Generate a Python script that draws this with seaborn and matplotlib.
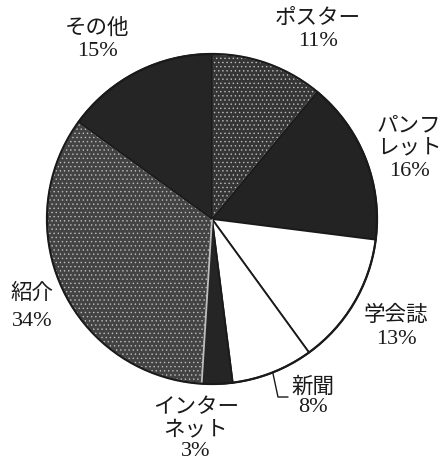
import matplotlib
matplotlib.use("Agg")
import matplotlib.pyplot as plt
import seaborn as sns
import numpy as np
from matplotlib.patches import Circle

# ---- data ----
categories = ["ポスター", "パンフ\nレット", "学会誌", "新聞", "インター\nネット", "紹介", "その他"]
values = [11, 16, 13, 8, 3, 34, 15]
pct_labels = ["11%", "16%", "13%", "8%", "3%", "34%", "15%"]

# ---- styles ----
face_colors = ["#353535", "#232323", "#ffffff", "#ffffff", "#252525", "#434343", "#252525"]
edge_colors = ["#bdbdbd", "#1a1a1a", "#1a1a1a", "#1a1a1a", "#1a1a1a", "#bdbdbd", "#1a1a1a"]

sns.set_theme(style="white")
plt.rcParams["font.family"] = ["Noto Sans CJK JP", "DejaVu Sans"]
plt.rcParams["hatch.color"] = "#4f4f4f"
plt.rcParams["hatch.linewidth"] = 0.5

W, H = 445, 463
CX, CY, R = 212, 219, 165  # pie centre and radius in pixels

fig = plt.figure(figsize=(W / 100, H / 100), dpi=100)
fig.patch.set_facecolor("white")
ax = fig.add_axes([0, 0, 1, 1])
ax.set_aspect("equal")
ax.axis("off")


def px(x, y):
    return (x - CX) / R, (CY - y) / R


wedges, _ = ax.pie(values, startangle=90, counterclock=False,
                   colors=face_colors, radius=1.0,
                   wedgeprops=dict(linewidth=1.3))
for w, ec in zip(wedges, edge_colors):
    w.set_edgecolor(ec)
for i in (0, 5):
    wedges[i].set_hatch("....")

ax.add_patch(Circle((0, 0), 1.0, fill=False, edgecolor="#1a1a1a", lw=1.6, zorder=5))
ax.set_xlim(-CX / R, (W - CX) / R)
ax.set_ylim(-(H - CY) / R, CY / R)

# ---- labels (pixel anchors of label centres) ----
name_pos = [(318, 18), (409, 136), (396, 315), (313, 387), (196, 418), (32, 293), (97, 28)]
pct_pos = [(318, 42), (409, 172), (396, 340), (313, 408), (196, 451), (32, 322), (97, 51)]

jp_font = dict(family=["Noto Sans CJK JP", "DejaVu Sans"], fontsize=15.5, color="#1a1a1a")
num_font = dict(family=["Liberation Serif", "DejaVu Serif"], fontsize=16, color="#1a1a1a")

for name, pct, npos, ppos in zip(categories, pct_labels, name_pos, pct_pos):
    ax.text(*px(*npos), name, ha="center", va="center", linespacing=1.0, **jp_font)
    ax.text(*px(*ppos), pct, ha="center", va="center", **num_font)

# leader line for 新聞 (starts at the wedge's mid-angle on the rim)
cum = np.cumsum([0] + values)
i = 3
mid = np.deg2rad(90 - 360 * (cum[i] + cum[i + 1]) / 2 / 100)
x0, y0 = np.cos(mid), np.sin(mid)
x1, y1 = px(278, 397)
x2, _ = px(288, 397)
ax.plot([x0, x1, x2], [y0, y1, y1], color="#1a1a1a", lw=1.0)

fig.savefig("out.png", dpi=100, facecolor="white")
